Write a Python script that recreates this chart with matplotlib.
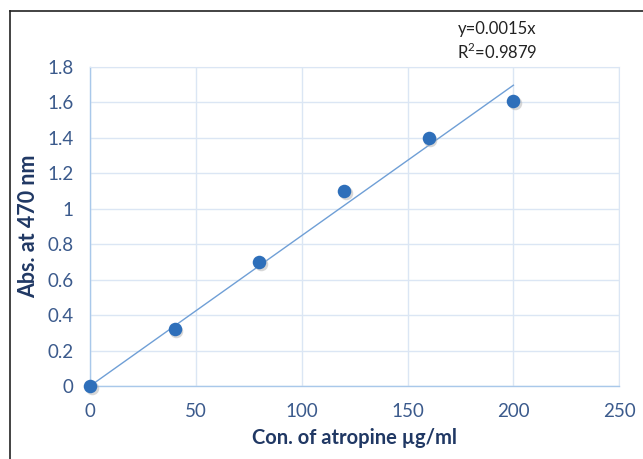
import numpy as np
import matplotlib
matplotlib.use('Agg')
import matplotlib.pyplot as plt
from matplotlib.lines import Line2D

# calibration data
conc = [0, 40, 80, 120, 160, 200]
absorb = [0.0, 0.32, 0.70, 1.10, 1.40, 1.61]
eq_text = 'y=0.0015x\nR$^2$=0.9879'

plt.rcParams['font.family'] = ['Lato', 'DejaVu Sans']
plt.rcParams['mathtext.fontset'] = 'custom'
plt.rcParams['mathtext.rm'] = 'Lato'

fig = plt.figure(figsize=(6.43, 4.59), dpi=100)
ax = fig.add_axes([0.140, 0.159, 0.823, 0.695])

# trendline through origin, drawn over the data range
x = np.array(conc, dtype=float)
y = np.array(absorb, dtype=float)
slope = (x * y).sum() / (x * x).sum()
ax.plot([0, x.max()], [0, slope * x.max()], color='#6f9fd6', lw=1.0, zorder=2)

# markers with a soft shadow
ax.scatter(x + 0.8, y - 0.012, s=95, color='#b0b0b0', alpha=0.5, lw=0,
           zorder=3, clip_on=False)
ax.scatter(x, y, s=95, color='#2e6fba', lw=0, zorder=4, clip_on=False)

ax.set_xlim(0, 250)
ax.set_ylim(0, 1.8)
ax.set_xticks([0, 50, 100, 150, 200, 250])
ax.set_yticks([0, 0.2, 0.4, 0.6, 0.8, 1.0, 1.2, 1.4, 1.6, 1.8])
ax.set_yticklabels(['0', '0.2', '0.4', '0.6', '0.8', '1', '1.2', '1.4', '1.6', '1.8'])
ax.grid(True, color='#dbe6f4', lw=1.0, zorder=0)
ax.set_axisbelow(True)
for side in ['top', 'right']:
    ax.spines[side].set_color('#dbe6f4')
for side in ['left', 'bottom']:
    ax.spines[side].set_color('#a9c8ea')
    ax.spines[side].set_linewidth(1.0)
ax.tick_params(length=0, labelsize=13.5, labelcolor='#3b5a8c')
ax.tick_params(axis='x', pad=12)
ax.tick_params(axis='y', pad=12)

ax.set_xlabel('Con. of atropine µg/ml', fontsize=14.5, fontweight='bold',
              color='#203864', labelpad=6)
ax.set_ylabel('Abs. at 470 nm', fontsize=15.5, fontweight='bold',
              color='#203864', labelpad=6)

fig.text(0.773, 0.910, eq_text, ha='center', va='center', fontsize=12,
         color='#222222', linespacing=1.3)

# outer frame (only top and left visible in the crop)
fig.add_artist(Line2D([0.016, 1.0], [0.976, 0.976], color='#222222', lw=1.2))
fig.add_artist(Line2D([0.016, 0.016], [0.0, 0.976], color='#222222', lw=1.2))

fig.savefig('out.png', dpi=100)
